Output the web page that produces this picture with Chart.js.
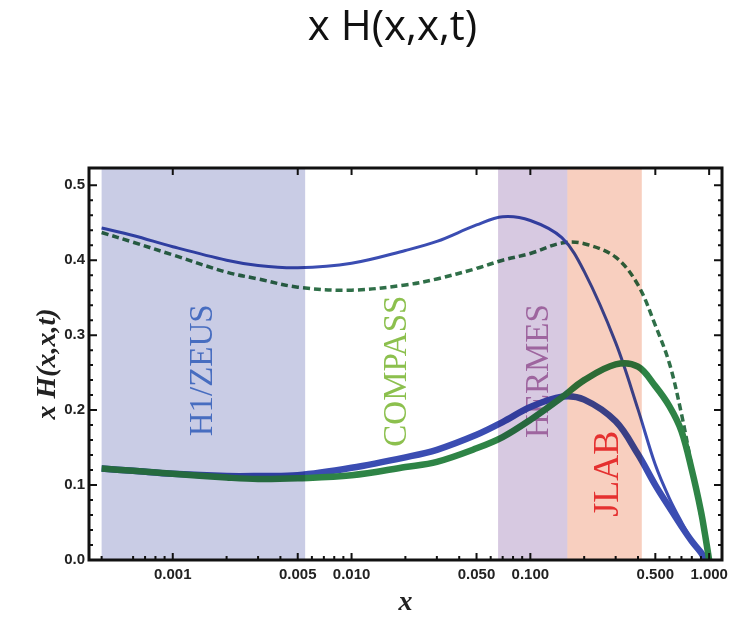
<!DOCTYPE html>
<html>
<head>
<meta charset="utf-8">
<script src="https://cdn.jsdelivr.net/npm/chart.js@4/dist/chart.umd.min.js"></script>
<style>
  html, body { margin: 0; padding: 0; background: #fff; }
</style>
</head>
<body>
<canvas id="gpdChart" width="751" height="621"></canvas>
<script>
// x values where the four curves are sampled
const xValues = [0.0004, 0.0006, 0.001, 0.002, 0.003, 0.005, 0.01, 0.02, 0.03, 0.05, 0.07,
                 0.1, 0.15, 0.2, 0.3, 0.4, 0.5, 0.6, 0.7, 0.8, 0.9, 0.95, 1.0];

// x H(x,x,t) curves
const upperBlue  = [0.443, 0.433, 0.418, 0.400, 0.393, 0.390, 0.396, 0.413, 0.425, 0.447, 0.458,
                    0.453, 0.430, 0.385, 0.290, 0.201, 0.127, 0.082, 0.051, 0.027, 0.011, 0.0, null];
const upperGreen = [0.437, 0.424, 0.407, 0.384, 0.375, 0.364, 0.360, 0.367, 0.375, 0.389, 0.400,
                    0.409, 0.423, 0.422, 0.404, 0.367, 0.313, 0.262, 0.195, 0.124, 0.058, 0.030, 0.0];
const lowerBlue  = [0.122, 0.119, 0.115, 0.112, 0.112, 0.113, 0.123, 0.137, 0.147, 0.167, 0.184,
                    0.204, 0.218, 0.214, 0.185, 0.141, 0.100, 0.070, 0.045, 0.025, 0.010, 0.0, null];
const lowerGreen = [0.122, 0.119, 0.115, 0.110, 0.108, 0.109, 0.113, 0.124, 0.131, 0.149, 0.164,
                    0.187, 0.217, 0.240, 0.261, 0.258, 0.232, 0.205, 0.172, 0.120, 0.065, 0.033, 0.0];

// kinematic ranges of the experiments (shaded)
const bandFrom   = [0.0004, 0.066, 0.161];
const bandTo     = [0.0055, 0.161, 0.42];
const bandColors = ['#c9cce5', '#d7c9e1', '#f8cfbf'];

// experiment names written vertically
const expNames  = ['H1/ZEUS', 'COMPASS', 'HERMES', 'JLAB'];
const expX      = [0.00149, 0.0181, 0.112, 0.273];
const expY      = [0.253, 0.252, 0.252, 0.115];
const expSizes  = [33, 33, 33, 36];
const expColors = ['#5a88d6', '#8cc04e', '#bb80b4', '#ec3c40'];

// axis ticks and range
const xMin = 0.00034, xMax = 1.18;
const xTicks = [0.001, 0.005, 0.01, 0.05, 0.1, 0.5, 1.0];
const yTicks = [0.0, 0.1, 0.2, 0.3, 0.4, 0.5];

const toPoints = arr => xValues.map((x, i) => ({ x: x, y: arr[i] }));

const frameAndDecor = {
  id: 'frameAndDecor',
  beforeDraw(chart) {
    const ctx = chart.ctx;
    ctx.save();
    ctx.fillStyle = '#fff';
    ctx.fillRect(0, 0, chart.width, chart.height);
    ctx.restore();
  },
  beforeDatasetsDraw(chart) {
    const { ctx, scales: { x, y } } = chart;
    ctx.save();
    ctx.textAlign = 'center';
    ctx.textBaseline = 'middle';
    expNames.forEach((name, i) => {
      ctx.save();
      ctx.translate(x.getPixelForValue(expX[i]), y.getPixelForValue(expY[i]));
      ctx.rotate(-Math.PI / 2);
      ctx.font = expSizes[i] + 'px "Liberation Serif"';
      ctx.fillStyle = expColors[i];
      ctx.fillText(name, 0, 0);
      ctx.restore();
    });
    ctx.restore();
  },
  afterDatasetsDraw(chart) {
    // bands are multiplied over the curves so lines inside take their tint
    const { ctx, chartArea: a, scales: { x } } = chart;
    ctx.save();
    ctx.beginPath();
    ctx.rect(a.left, a.top, a.right - a.left, a.bottom - a.top);
    ctx.clip();
    ctx.globalCompositeOperation = 'multiply';
    bandFrom.forEach((from, i) => {
      const x0 = x.getPixelForValue(from);
      const x1 = x.getPixelForValue(bandTo[i]);
      ctx.fillStyle = bandColors[i];
      ctx.fillRect(x0, a.top, x1 - x0, a.bottom - a.top);
    });
    ctx.restore();
  },
  afterDraw(chart) {
    const { ctx, chartArea: a, scales: { x, y } } = chart;
    ctx.save();
    ctx.strokeStyle = '#111';

    // inward ticks: majors on all four sides, log minors on the bottom only
    ctx.lineWidth = 2;
    ctx.beginPath();
    const xTick = (v, len, top) => {
      const px = x.getPixelForValue(v);
      ctx.moveTo(px, a.bottom); ctx.lineTo(px, a.bottom - len);
      if (top) { ctx.moveTo(px, a.top); ctx.lineTo(px, a.top + len); }
    };
    const yTick = (v, len) => {
      const py = y.getPixelForValue(v);
      ctx.moveTo(a.left, py); ctx.lineTo(a.left + len, py);
      ctx.moveTo(a.right, py); ctx.lineTo(a.right - len, py);
    };
    xTicks.forEach(v => xTick(v, 7, true));
    for (let k = -4; k <= 0; k++) {
      for (let m = 2; m <= 9; m++) {
        const v = m * Math.pow(10, k);
        if (v < xMin || v > xMax || m === 5) continue;
        xTick(v, 4, false);
      }
    }
    yTicks.forEach(v => yTick(v, 8));
    for (let i = 1; i < 26; i++) {
      if (i % 5 === 0) continue;
      yTick(i * 0.02, 4);
    }
    ctx.stroke();

    // plot frame
    ctx.lineWidth = 3;
    ctx.strokeRect(a.left, a.top, a.right - a.left, a.bottom - a.top);

    // chart heading
    ctx.fillStyle = '#111';
    ctx.font = '42px "Open Sans"';
    ctx.textAlign = 'center';
    ctx.textBaseline = 'middle';
    ctx.fillText('x H(x,x,t)', (a.left + a.right) / 2 - 13, 28);
    ctx.restore();
  }
};

const tickFont = { family: '"Liberation Sans"', size: 15, weight: 'bold' };

new Chart(document.getElementById('gpdChart'), {
  type: 'line',
  data: {
    datasets: [
      { data: toPoints(lowerGreen), borderColor: '#2e8446', borderWidth: 6.5 },
      { data: toPoints(upperBlue),  borderColor: '#3b4db2', borderWidth: 3 },
      { data: toPoints(upperGreen), borderColor: '#2f6f48', borderWidth: 3.5, borderDash: [7, 4] },
      { data: toPoints(lowerBlue),  borderColor: '#3b4db2', borderWidth: 6.5 }
    ]
  },
  options: {
    responsive: false,
    animation: false,
    layout: { padding: { top: 168, right: 29, left: 0, bottom: 0 } },
    elements: {
      point: { radius: 0 },
      line: { tension: 0.35, fill: false, borderCapStyle: 'butt' }
    },
    plugins: {
      legend: { display: false },
      tooltip: { enabled: false }
    },
    scales: {
      x: {
        type: 'logarithmic',
        bounds: 'data',
        min: xMin,
        max: xMax,
        grid: { display: false, drawTicks: false },
        border: { display: false },
        afterBuildTicks: s => {
          s.ticks = xTicks.map(v => ({ value: v }));
          s.min = xMin;
          s.max = xMax;
        },
        afterFit: s => { s.height = 61; },
        ticks: {
          font: tickFont, color: '#222', padding: 6,
          autoSkip: false, maxRotation: 0,
          callback: v => Number(v).toFixed(3)
        },
        title: {
          display: true, text: 'x', color: '#222',
          font: { family: '"Liberation Serif"', size: 28, style: 'italic', weight: 'bold' },
          padding: { top: 0, bottom: 1 }
        }
      },
      y: {
        type: 'linear',
        min: 0,
        max: 0.523,
        grid: { display: false, drawTicks: false },
        border: { display: false },
        afterBuildTicks: s => { s.ticks = yTicks.map(v => ({ value: v })); },
        afterFit: s => { s.width = 89; },
        ticks: {
          font: tickFont, color: '#222', padding: 4,
          callback: v => Number(v).toFixed(1)
        },
        title: {
          display: true, text: 'x H(x,x,t)', color: '#222',
          font: { family: '"Liberation Serif"', size: 28, style: 'italic', weight: 'bold' },
          padding: { top: 31, bottom: 0 }
        }
      }
    }
  },
  plugins: [frameAndDecor]
});
</script>
</body>
</html>
